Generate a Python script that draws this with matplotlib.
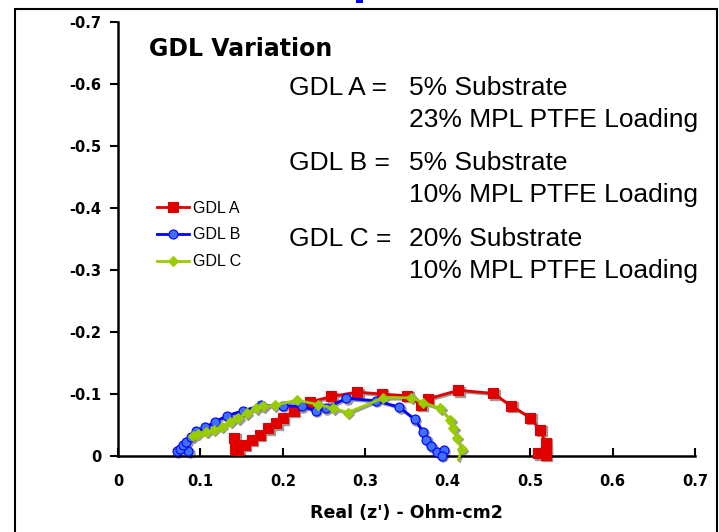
import matplotlib
matplotlib.use("Agg")
import matplotlib.pyplot as plt
import matplotlib.transforms as mtransforms
from matplotlib.patches import Rectangle

# GDL A (red squares)
a_real = [0.141, 0.142, 0.146, 0.154, 0.162, 0.172, 0.182, 0.192, 0.200, 0.213, 0.233,
          0.259, 0.290, 0.320, 0.351, 0.368, 0.376, 0.413, 0.455, 0.477, 0.500, 0.512,
          0.519, 0.519, 0.510, 0.519]
a_imag = [-0.029, -0.012, -0.010, -0.018, -0.026, -0.034, -0.045, -0.053, -0.061, -0.073,
          -0.087, -0.096, -0.103, -0.100, -0.097, -0.083, -0.092, -0.106, -0.101, -0.081,
          -0.062, -0.042, -0.021, -0.010, -0.004, -0.002]

# GDL B (blue circles)
b_real = [0.085, 0.071, 0.075, 0.079, 0.083, 0.089, 0.095, 0.105, 0.118, 0.132, 0.152,
          0.174, 0.200, 0.223, 0.240, 0.252, 0.277, 0.313, 0.341, 0.360, 0.370, 0.374,
          0.380, 0.387, 0.395, 0.393]
b_imag = [-0.008, -0.008, -0.012, -0.018, -0.023, -0.031, -0.040, -0.046, -0.055, -0.065,
          -0.073, -0.082, -0.081, -0.080, -0.073, -0.077, -0.093, -0.089, -0.079, -0.059,
          -0.039, -0.026, -0.016, -0.007, -0.009, 0.0]

# GDL C (green diamonds), last point is only the line running past the axis
c_real = [0.091, 0.097, 0.107, 0.116, 0.126, 0.136, 0.146, 0.156, 0.168, 0.176, 0.190,
          0.217, 0.243, 0.261, 0.279, 0.322, 0.356, 0.370, 0.391, 0.403, 0.407, 0.411,
          0.417, 0.413]
c_imag = [-0.032, -0.036, -0.039, -0.042, -0.047, -0.055, -0.061, -0.069, -0.077, -0.080,
          -0.082, -0.090, -0.083, -0.077, -0.070, -0.094, -0.094, -0.086, -0.077, -0.058,
          -0.045, -0.029, -0.011, 0.006]

x_ticks = [0, 0.1, 0.2, 0.3, 0.4, 0.5, 0.6, 0.7]
y_ticks = [0, -0.1, -0.2, -0.3, -0.4, -0.5, -0.6, -0.7]

fig = plt.figure(figsize=(7.19, 5.32), dpi=100)
ax = fig.add_axes([0.1641, 0.1429, 0.8025, 0.8157])

# gray drop shadow like the excel chart
shadow = mtransforms.offset_copy(ax.transData, fig=fig, x=1.5, y=-1.5, units='dots')

series = [
    (a_real, a_imag, 's', 7, '#e00000', '#e00000', 'GDL A', None),
    (b_real, b_imag, 'o', 6.5, '#0000ff', '#3f6fff', 'GDL B', None),
    (c_real, c_imag, 'D', 5.5, '#99cc00', '#99cc00', 'GDL C', slice(0, len(c_real) - 1)),
]
for xs, ys, mk, ms, col, face, lab, every in series:
    ax.plot(xs, ys, color='#999999', lw=2, marker=mk, ms=ms, mfc='#999999', mec='#999999',
            markevery=every, transform=shadow, clip_on=False, zorder=2)
for xs, ys, mk, ms, col, face, lab, every in series:
    ax.plot(xs, ys, color=col, lw=2, marker=mk, ms=ms, mfc=face, mec=col, mew=0.8,
            markevery=every, label=lab, clip_on=False, zorder=3)

ax.set_xlim(0, 0.7)
ax.set_ylim(0, -0.7)
ax.set_xticks(x_ticks)
ax.set_yticks(y_ticks)
ax.set_xticklabels(['0' if t == 0 else f'{t:.1f}' for t in x_ticks])
ax.set_yticklabels(['0' if t == 0 else f'{t:.1f}' for t in y_ticks])
for lbl in ax.get_xticklabels() + ax.get_yticklabels():
    lbl.set_fontweight('bold')
ax.tick_params(axis='x', direction='in', length=6, width=1.5, pad=13, labelsize=10.5)
ax.tick_params(axis='y', direction='out', length=6, width=1.5, pad=6, labelsize=10.5)
ax.spines['top'].set_visible(False)
ax.spines['right'].set_visible(False)
ax.spines['left'].set_linewidth(1.8)
ax.spines['bottom'].set_linewidth(1.8)
ax.set_xlabel("Real (z') - Ohm-cm2", fontsize=12.5, fontweight='bold', labelpad=11)

ax.legend(loc='upper left', bbox_to_anchor=(0.218, 0.6226), bbox_transform=fig.transFigure,
          frameon=False, prop={'family': 'Liberation Sans', 'size': 11.5},
          handlelength=2.0, handletextpad=0.3, labelspacing=0.73,
          borderpad=0, borderaxespad=0)

fig.text(149 / 719, 1 - 56 / 532, 'GDL Variation', fontsize=17, fontweight='bold', va='baseline')
txt = dict(fontsize=19, family='Liberation Sans', va='baseline')
fig.text(289 / 719, 1 - 95 / 532, 'GDL A =', **txt)
fig.text(409 / 719, 1 - 95 / 532, '5% Substrate', **txt)
fig.text(409 / 719, 1 - 127 / 532, '23% MPL PTFE Loading', **txt)
fig.text(289 / 719, 1 - 170 / 532, 'GDL B =', **txt)
fig.text(409 / 719, 1 - 170 / 532, '5% Substrate', **txt)
fig.text(409 / 719, 1 - 202 / 532, '10% MPL PTFE Loading', **txt)
fig.text(289 / 719, 1 - 246 / 532, 'GDL C =', **txt)
fig.text(409 / 719, 1 - 246 / 532, '20% Substrate', **txt)
fig.text(409 / 719, 1 - 278 / 532, '10% MPL PTFE Loading', **txt)

# outer frame and the little blue mark at the top
fig.patches.append(Rectangle((15 / 719, -0.05), 702 / 719, 1.05 - 9 / 532, transform=fig.transFigure,
                             fill=False, edgecolor='black', lw=1.5))
fig.patches.append(Rectangle((356 / 719, 1 - 3 / 532), 7 / 719, 3 / 532, transform=fig.transFigure,
                             facecolor='#0000ff', edgecolor='none'))

fig.savefig('out.png', dpi=100)
